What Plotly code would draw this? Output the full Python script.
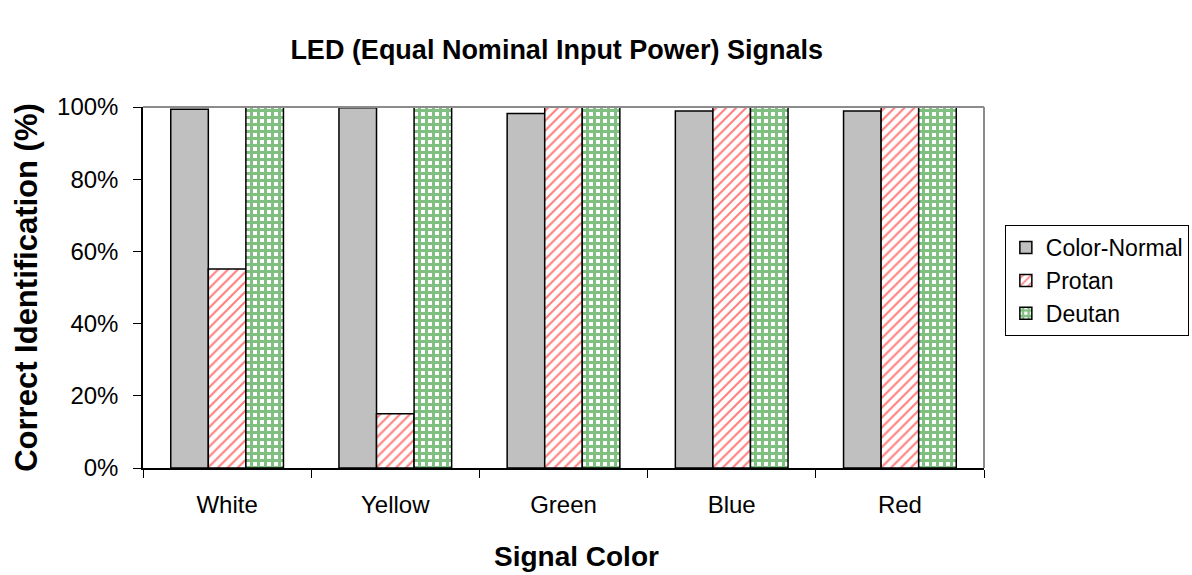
import plotly.graph_objects as go

# Signal colours on the category axis
categories = ["White", "Yellow", "Green", "Blue", "Red"]

# Percent correct identification per observer group
color_normal = [99.4, 99.8, 98.2, 98.9, 98.9]
protan = [55.1, 15.0, 100.0, 100.0, 100.0]
deutan = [100.0, 100.0, 100.0, 100.0, 100.0]

y_ticks = [0, 20, 40, 60, 80, 100]
y_tick_labels = ["0%", "20%", "40%", "60%", "80%", "100%"]

FONT = "Liberation Sans, Arial, sans-serif"
outline = dict(color="black", width=1.5)

fig = go.Figure()
fig.add_bar(
    name="Color-Normal", x=categories, y=color_normal,
    marker=dict(color="#c0c0c0", line=outline),
)
fig.add_bar(
    name="Protan", x=categories, y=protan,
    marker=dict(color="white", line=outline,
                pattern=dict(shape="/", fgcolor="#ff0000", bgcolor="white",
                             size=7, solidity=0.3)),
)
fig.add_bar(
    name="Deutan", x=categories, y=deutan,
    marker=dict(color="white", line=outline,
                pattern=dict(shape="+", fgcolor="#008000", bgcolor="white",
                             size=7, solidity=0.673)),
)

# Grey plot-area border on the top and right sides
border = dict(color="#8c8c8c", width=2)
fig.add_shape(type="line", xref="x domain", yref="y domain",
              x0=0, x1=1, y0=1, y1=1, line=border)
fig.add_shape(type="line", xref="x domain", yref="y domain",
              x0=1, x1=1, y0=0, y1=1, line=border)

# Horizontal axis title, placed below the category labels
fig.add_annotation(text="<b>Signal Color</b>", xref="x domain", yref="y domain",
                   x=0.516, y=-0.2465, xanchor="center", yanchor="middle",
                   showarrow=False, font=dict(family=FONT, size=28, color="black"))

fig.update_layout(
    width=1192, height=575,
    margin=dict(l=143, r=208, t=107, b=107),
    paper_bgcolor="white", plot_bgcolor="white",
    font=dict(family=FONT, size=24, color="black"),
    barmode="group", bargap=0.33, bargroupgap=0,
    title=dict(text="<b>LED (Equal Nominal Input Power) Signals</b>",
               x=0.467, xanchor="center", y=0.913, yanchor="middle",
               font=dict(family=FONT, size=27, color="black")),
    legend=dict(xref="container", x=0.843, xanchor="left",
                y=0.673, yanchor="top",
                bordercolor="black", borderwidth=1, bgcolor="white",
                font=dict(family=FONT, size=23, color="black")),
    xaxis=dict(
        showline=True, linecolor="black", linewidth=1.5,
        ticks="outside", tickson="boundaries", ticklen=8,
        tickcolor="black", showgrid=False, automargin=False,
        ticklabelstandoff=14,
    ),
    yaxis=dict(
        title=dict(text="<b>Correct Identification (%)</b>", standoff=10,
                   font=dict(family=FONT, size=31)),
        range=[0, 100], tickvals=y_ticks, ticktext=y_tick_labels,
        showline=True, linecolor="black", linewidth=1.5,
        ticks="outside", ticklen=8, tickcolor="black",
        showgrid=False, zeroline=False, automargin=False,
        ticklabelstandoff=10,
    ),
)

fig.write_html("out.html")
